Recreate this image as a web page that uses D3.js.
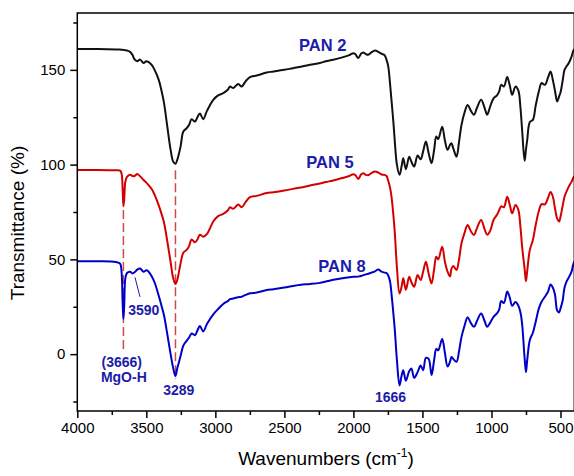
<!DOCTYPE html>
<html>
<head>
<meta charset="utf-8">
<script src="https://cdn.jsdelivr.net/npm/d3@7"></script>
<style>
  html, body { margin: 0; padding: 0; background: #fff; }
  svg { display: block; font-family: Arial, "Liberation Sans", sans-serif; }
</style>
</head>
<body>
<svg id="chart" width="574" height="476"></svg>
<script>
// FTIR spectra of three PAN samples (transmittance, offset for clarity)
const wavenumbers = [
  4000, 3850, 3720, 3690, 3680, 3672, 3666, 3660, 3652, 3640,
  3618, 3600, 3585, 3566, 3545, 3520, 3500, 3485, 3460, 3440,
  3410, 3390, 3372, 3348, 3324, 3305, 3289, 3276, 3252, 3232,
  3208, 3190, 3172, 3148, 3130, 3112, 3088, 3060, 3015, 2980,
  2943, 2910, 2894, 2870, 2834, 2810, 2780, 2749, 2700, 2628,
  2580, 2500, 2436, 2380, 2315, 2243, 2200, 2146, 2080, 2030,
  2001, 1985, 1965, 1945, 1929, 1910, 1893, 1870, 1844, 1820,
  1796, 1775, 1760, 1748, 1735, 1723, 1710, 1700, 1685, 1666,
  1650, 1639, 1620, 1596, 1580, 1560, 1535, 1513, 1495, 1475,
  1455, 1434, 1415, 1400, 1386, 1357, 1338, 1318, 1300, 1290,
  1277, 1253, 1235, 1217, 1195, 1173, 1150, 1127, 1105, 1075,
  1050, 1031, 1010, 985, 960, 944, 930, 910, 886, 868,
  850, 826, 805, 790, 778, 760, 750, 741, 722, 700,
  680, 657, 637, 613, 590, 572, 555, 540, 524, 510,
  500, 485, 471, 455, 440, 420, 409, 400
];

const pan2 = [
  161.0, 161.0, 160.8, 160.7, 160.6, 160.6, 160.5, 160.5, 160.4, 160.2,
  159.5, 157.8, 155.5, 154.6, 155.4, 153.6, 154.6, 154.2, 152.5, 150.0,
  144.7, 139.0, 132.6, 120.0, 107.8, 101.5, 100.5, 102.5, 109.5, 117.5,
  119.2, 121.0, 124.0, 122.7, 125.0, 127.0, 124.0, 128.5, 134.2, 136.5,
  137.7, 139.5, 141.2, 140.4, 142.6, 141.2, 144.0, 146.2, 147.0, 148.6,
  149.1, 150.0, 150.9, 151.6, 152.7, 153.6, 154.5, 155.3, 156.6, 157.8,
  158.8, 158.2, 156.2, 158.5, 159.2, 158.3, 158.0, 159.2, 160.2, 159.5,
  158.5, 157.8, 155.3, 152.0, 143.0, 133.0, 122.0, 112.0, 100.0, 94.6,
  99.5, 103.4, 97.6, 104.2, 101.5, 99.0, 104.8, 102.8, 107.0, 112.2,
  106.0, 100.7, 108.0, 114.8, 113.5, 120.0, 113.0, 107.8, 110.5, 111.3,
  108.7, 104.2, 112.0, 121.0, 127.5, 131.5, 128.5, 126.3, 130.0, 134.2,
  130.0, 126.3, 130.5, 135.0, 136.5, 138.6, 142.1, 141.2, 146.2, 142.0,
  136.8, 141.2, 139.0, 130.0, 118.3, 102.0, 108.0, 113.0, 122.5, 123.6,
  131.0, 138.6, 143.0, 142.1, 146.0, 149.1, 144.5, 139.0, 133.3, 136.0,
  138.0, 144.0, 150.0, 152.0, 153.6, 157.0, 159.7, 161.0
];

const pan5 = [
  97.2, 97.2, 97.0, 96.8, 95.5, 88.0, 78.0, 82.0, 91.0, 93.5,
  94.6, 94.0, 94.0, 95.1, 93.8, 91.9, 90.5, 89.3, 87.0, 84.0,
  78.5, 74.0, 69.5, 59.5, 48.5, 40.0, 37.0, 39.1, 47.9, 53.5,
  55.0, 57.0, 60.5, 59.0, 60.5, 63.0, 62.0, 63.5, 70.0, 72.8,
  74.0, 75.8, 77.5, 76.7, 78.9, 77.5, 80.3, 82.8, 83.5, 85.0,
  85.4, 86.3, 87.2, 87.9, 89.0, 90.0, 90.8, 91.6, 92.9, 94.0,
  94.9, 94.4, 92.4, 94.8, 95.5, 94.6, 94.4, 95.5, 96.4, 95.8,
  94.8, 94.6, 94.0, 91.5, 88.0, 82.5, 73.0, 64.0, 46.0, 32.0,
  36.0, 40.0, 34.0, 40.8, 38.0, 35.6, 41.7, 39.1, 43.5, 48.8,
  42.5, 37.3, 45.0, 51.4, 50.0, 56.7, 49.0, 43.5, 41.0, 45.0,
  46.5, 44.4, 50.0, 58.5, 64.0, 68.1, 65.0, 62.9, 66.5, 70.8,
  66.0, 63.0, 65.0, 70.8, 73.5, 76.0, 78.0, 77.5, 83.1, 79.0,
  74.3, 78.7, 76.0, 67.0, 56.7, 45.0, 38.5, 44.0, 55.0, 60.2,
  68.0, 75.5, 79.2, 79.0, 82.5, 85.5, 83.0, 77.0, 71.5, 70.0,
  72.5, 78.0, 83.0, 86.0, 88.4, 91.0, 92.8, 94.0
];

const pan8 = [
  49.0, 49.0, 48.6, 47.8, 44.0, 28.0, 18.5, 26.0, 40.0, 42.8,
  43.5, 42.6, 43.2, 44.6, 45.2, 43.5, 44.2, 43.6, 41.0, 37.8,
  30.8, 25.5, 20.5, 10.5, 0.0, -7.5, -11.5, -7.5, -1.0, 4.5,
  7.0, 8.8, 10.9, 10.0, 12.5, 14.8, 12.0, 16.0, 21.0, 23.8,
  26.5, 28.0, 29.0, 29.4, 30.0, 30.3, 31.3, 32.1, 32.5, 33.8,
  34.3, 35.2, 36.0, 36.6, 37.0, 37.6, 38.3, 39.2, 40.1, 40.6,
  40.8, 40.8, 40.9, 41.2, 41.7, 42.1, 42.4, 43.0, 43.7, 44.6,
  43.5, 43.0, 42.8, 41.5, 38.5, 31.0, 21.0, 12.7, -3.0, -16.5,
  -11.0, -8.5, -14.0, -9.0, -7.6, -12.5, -9.5, -6.0, -8.5, -2.0,
  -2.5, -11.0, -3.0, 2.8, 2.0, 8.0, 1.0, -6.5, -4.0, -1.5,
  -2.5, -4.0, 1.5, 9.1, 15.0, 19.5, 16.5, 14.4, 17.5, 21.5,
  17.5, 14.4, 16.5, 19.7, 21.5, 23.5, 28.0, 27.0, 33.0, 30.0,
  25.5, 27.5, 25.5, 22.0, 16.0, -2.0, -9.5, -3.0, 7.5, 11.3,
  17.0, 24.0, 27.6, 30.3, 33.0, 36.8, 35.0, 31.5, 23.0, 22.0,
  24.0, 28.0, 35.0, 38.5, 40.5, 43.5, 47.0, 49.0
];

const seriesNames = ["PAN 2", "PAN 5", "PAN 8"];
const seriesColors = ["#111111", "#d40000", "#0000c8"];

// axis ticks
const xMajorTicks = [4000, 3500, 3000, 2500, 2000, 1500, 1000, 500];
const xMinorTicks = [3750, 3250, 2750, 2250, 1750, 1250, 750];
const yMajorTicks = [0, 50, 100, 150];
const yMinorTicks = [-25, 25, 75, 125, 175];

// band markers: wavenumber, upper and lower transmittance of the dashed guide
const markerWn = [3666, 3289];
const markerTop = [76, 97];
const markerBottom = [2, -13];

// annotation texts with their anchor (wavenumber, transmittance)
const seriesLabelWn = [2222, 2170, 2083];
const seriesLabelT = [160.1, 98.0, 43.5];
const bandLabels = ["3590", "(3666)", "MgO-H", "3289", "1666"];
const bandLabelWn = [3518, 3678, 3663, 3265, 1731];
const bandLabelT = [20.6, -6.8, -14.6, -21.6, -25.1];
const leaderWn = [3582, 3546];
const leaderT = [40.5, 30.2];

const svg = d3.select("#chart");
const plotLeft = 77.3, plotRight = 574.3, plotTop = 13, plotBottom = 411;

const x = d3.scaleLinear().domain([4000, 400]).range([plotLeft, plotRight]);
const y = d3.scaleLinear().domain([-30, 180]).range([plotBottom, plotTop]);

svg.append("defs").append("clipPath").attr("id", "plotClip")
  .append("rect").attr("x", plotLeft).attr("y", plotTop)
  .attr("width", plotRight - plotLeft).attr("height", plotBottom - plotTop);

// dashed guides
const guideG = svg.append("g");
markerWn.forEach((wn, i) => {
  guideG.append("line")
    .attr("x1", x(wn)).attr("x2", x(wn))
    .attr("y1", y(markerTop[i])).attr("y2", y(markerBottom[i]))
    .attr("stroke", "#d04848").attr("stroke-width", 1.5)
    .attr("stroke-dasharray", "9,4");
});

// spectra
const line = d3.line()
  .x(d => x(d[0]))
  .y(d => y(d[1]))
  .curve(d3.curveCatmullRom.alpha(0.5));

const curves = svg.append("g").attr("clip-path", "url(#plotClip)");
[pan2, pan5, pan8].forEach((vals, i) => {
  const pts = wavenumbers.map((w, k) => [w, vals[k]]);
  curves.append("path")
    .datum(pts)
    .attr("d", line)
    .attr("fill", "none")
    .attr("stroke", seriesColors[i])
    .attr("stroke-width", 2)
    .attr("stroke-linejoin", "round");
});

// frame
svg.append("rect")
  .attr("x", plotLeft).attr("y", plotTop)
  .attr("width", plotRight - plotLeft).attr("height", plotBottom - plotTop)
  .attr("fill", "none").attr("stroke", "#000").attr("stroke-width", 1.5);

// axes
const axisStyle = g => {
  g.select(".domain").remove();
  g.selectAll(".tick line").attr("stroke", "#000").attr("stroke-width", 1.5);
  g.selectAll(".tick text").attr("fill", "#000").style("font-size", "15px")
    .style("font-family", "Arial, 'Liberation Sans', sans-serif");
};

svg.append("g").attr("transform", `translate(0,${plotBottom})`)
  .call(d3.axisBottom(x).tickValues(xMajorTicks).tickSize(7).tickPadding(4).tickFormat(d3.format("d")))
  .call(axisStyle);
svg.append("g").attr("transform", `translate(0,${plotBottom})`)
  .call(d3.axisBottom(x).tickValues(xMinorTicks).tickSize(4).tickFormat(""))
  .call(axisStyle);
svg.append("g").attr("transform", `translate(${plotLeft},0)`)
  .call(d3.axisLeft(y).tickValues(yMajorTicks).tickSize(7).tickPadding(5).tickFormat(d3.format("d")))
  .call(axisStyle);
svg.append("g").attr("transform", `translate(${plotLeft},0)`)
  .call(d3.axisLeft(y).tickValues(yMinorTicks).tickSize(4).tickFormat(""))
  .call(axisStyle);

// axis titles
svg.append("text")
  .attr("transform", `translate(24,${(plotTop + plotBottom) / 2 + 11}) rotate(-90)`)
  .attr("text-anchor", "middle")
  .style("font-size", "19px")
  .text("Transmittance (%)");

const xt = svg.append("text")
  .attr("x", 326).attr("y", 465)
  .attr("text-anchor", "middle")
  .style("font-size", "19px");
xt.append("tspan").text("Wavenumbers (cm");
xt.append("tspan").attr("dy", -8).style("font-size", "12px").text("-1");
xt.append("tspan").attr("dy", 8).text(")");

// annotations
const labelColor = "#1c1ca8";
seriesNames.forEach((name, i) => {
  svg.append("text")
    .attr("x", x(seriesLabelWn[i])).attr("y", y(seriesLabelT[i]))
    .attr("text-anchor", "middle")
    .attr("fill", labelColor)
    .style("font-size", "16.5px").style("font-weight", "bold")
    .text(name);
});
bandLabels.forEach((t, i) => {
  svg.append("text")
    .attr("x", x(bandLabelWn[i])).attr("y", y(bandLabelT[i]))
    .attr("text-anchor", "middle")
    .attr("fill", labelColor)
    .style("font-size", "14px").style("font-weight", "bold")
    .text(t);
});
svg.append("line")
  .attr("x1", x(leaderWn[0])).attr("y1", y(leaderT[0]))
  .attr("x2", x(leaderWn[1])).attr("y2", y(leaderT[1]))
  .attr("stroke", labelColor).attr("stroke-width", 1);
</script>
</body>
</html>
